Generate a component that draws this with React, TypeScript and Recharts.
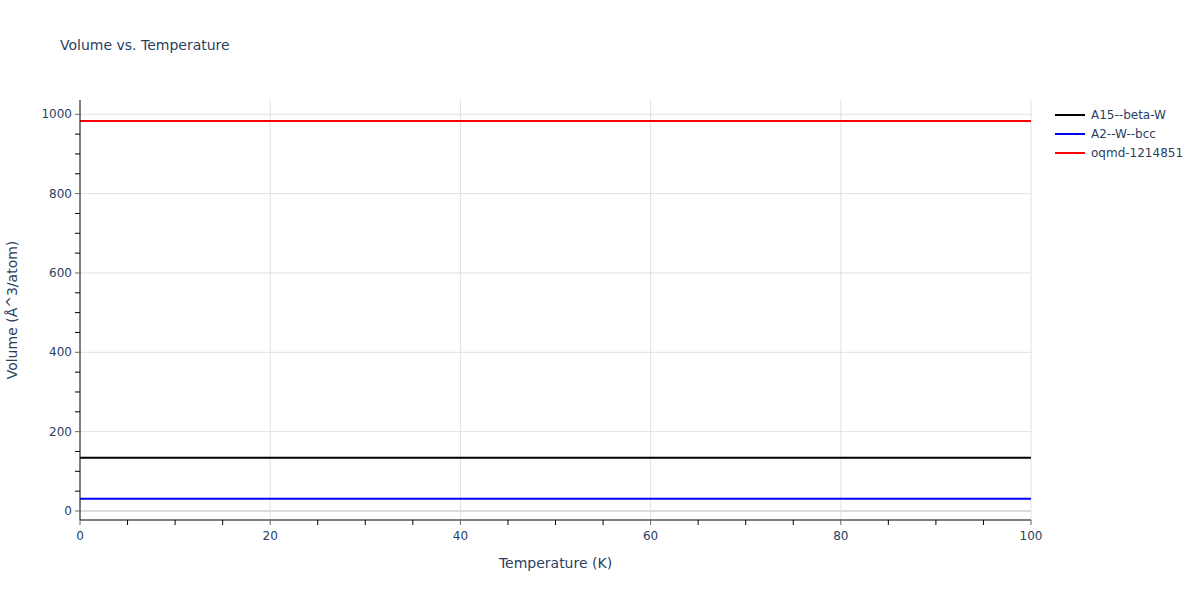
import { CartesianGrid, Line, LineChart, ReferenceLine, XAxis, YAxis } from "recharts";

const temperatures = [0, 10, 20, 30, 40, 50, 60, 70, 80, 90, 100];
const a15BetaW = [134, 134, 134, 134, 134, 134, 134, 134, 134, 134, 134];
const a2WBcc = [31, 31, 31, 31, 31, 31, 31, 31, 31, 31, 31];
const oqmd1214851 = [983, 983, 983, 983, 983, 983, 983, 983, 983, 983, 983];

const xMajor = [0, 20, 40, 60, 80, 100];
const xMinor = [5, 10, 15, 25, 30, 35, 45, 50, 55, 65, 70, 75, 85, 90, 95];
const yMajor = [0, 200, 400, 600, 800, 1000];
const yMinor = [50, 100, 150, 250, 300, 350, 450, 500, 550, 650, 700, 750, 850, 900, 950];

const series = [
  { key: "a15", name: "A15--beta-W", color: "#000000", values: a15BetaW },
  { key: "a2", name: "A2--W--bcc", color: "#0000ff", values: a2WBcc },
  { key: "oqmd", name: "oqmd-1214851", color: "#ff0000", values: oqmd1214851 },
];

const rows = temperatures.map((t, i) => ({ t, a15: a15BetaW[i], a2: a2WBcc[i], oqmd: oqmd1214851[i] }));

const font = "'DejaVu Sans', Verdana, sans-serif";
const textColor = "#2a3f5f";
const gridColor = "#e1e1e1";

function YTick(p: any) {
  const major = yMajor.includes(p.payload.value);
  return <g>
    <line x1={p.x - 5} x2={p.x} y1={p.y} y2={p.y} stroke={major ? "#666" : "#000"} strokeWidth={1} />
    {major && <text x={p.x - 8} y={p.y + 4} textAnchor="end" fontSize={12} fontFamily={font} fill={textColor}>{p.payload.value}</text>}
  </g>;
}

function XTick(p: any) {
  const major = xMajor.includes(p.payload.value);
  return <g>
    <line x1={p.x} x2={p.x} y1={p.y} y2={p.y + 5} stroke={major ? "#666" : "#000"} strokeWidth={1} />
    {major && <text x={p.x} y={p.y + 20} textAnchor="middle" fontSize={12} fontFamily={font} fill={textColor}>{p.payload.value}</text>}
  </g>;
}

export default function App() {
  return <div style={{ position: "absolute", left: 0, top: 0, width: 1200, height: 600, background: "#fff", fontFamily: font }}>
    <div style={{ position: "absolute", left: 60, top: 37, fontSize: 14, color: textColor }}>Volume vs. Temperature</div>
    <LineChart width={1200} height={600} data={rows} margin={{ top: 100, right: 169, bottom: 50, left: 20 }}>
      <CartesianGrid stroke="none" />
      {xMajor.slice(1).map((v) => <ReferenceLine key={"gx" + v} x={v} stroke={gridColor} strokeWidth={1} />)}
      {yMajor.slice(1).map((v) => <ReferenceLine key={"gy" + v} y={v} stroke={gridColor} strokeWidth={1} />)}
      <ReferenceLine y={0} stroke="#dcdcdc" strokeWidth={2} />
      <XAxis dataKey="t" type="number" domain={[0, 100]} ticks={[...xMajor, ...xMinor]} interval={0} height={30}
        tickSize={0} tickMargin={0} tickLine={false} axisLine={{ stroke: "#000", strokeWidth: 1 }} tick={(p: any) => <XTick {...p} />}
        label={{ value: "Temperature (K)", position: "bottom", offset: 8, fontSize: 14, fontFamily: font, fill: textColor }} />
      <YAxis type="number" domain={[-22.7, 1036]} ticks={[...yMajor, ...yMinor]} interval={0} width={60}
        tickSize={0} tickMargin={0} tickLine={false} axisLine={{ stroke: "#000", strokeWidth: 1 }} tick={(p: any) => <YTick {...p} />}
        allowDataOverflow
        label={{ value: "Volume (Å^3/atom)", angle: -90, position: "insideLeft", offset: -8, fontSize: 14, fontFamily: font, fill: textColor, style: { textAnchor: "middle" } }} />
      {series.map((s) => <Line key={s.key} dataKey={s.key} name={s.name} stroke={s.color} strokeWidth={2} dot={false} isAnimationActive={false} />)}
    </LineChart>
    <div style={{ position: "absolute", left: 1055, top: 105 }}>
      {series.map((s) => <div key={s.key} style={{ display: "flex", alignItems: "center", height: 19 }}>
        <div style={{ width: 30, height: 2, background: s.color }} />
        <span style={{ marginLeft: 6, fontSize: 12, color: textColor }}>{s.name}</span>
      </div>)}
    </div>
  </div>;
}
